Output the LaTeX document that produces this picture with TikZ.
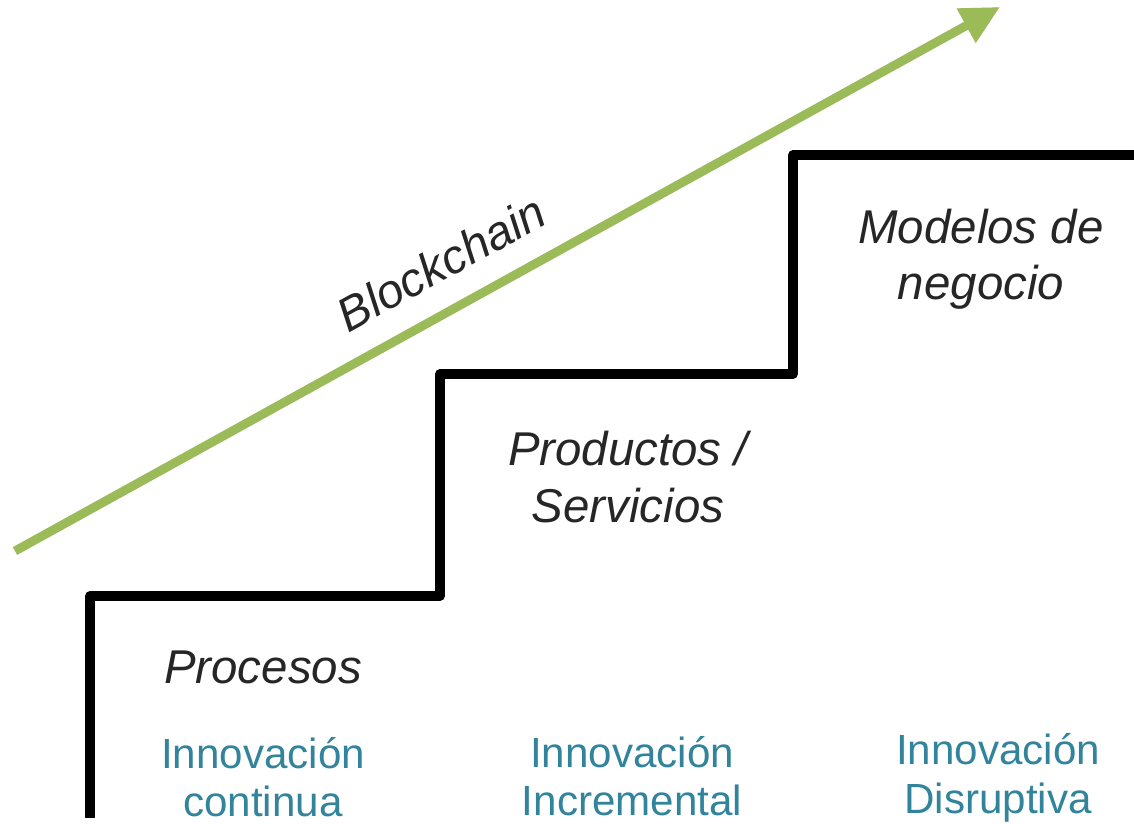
\documentclass[tikz,border=0pt]{standalone}
\usepackage{fontspec}
\setmainfont{Liberation Sans}
\usetikzlibrary{arrows.meta}
\definecolor{leaf}{HTML}{9BBB59}
\definecolor{teal}{HTML}{31849B}
\definecolor{ink}{HTML}{262626}
\tikzset{
  stair/.style={line width=5.4pt, black, line join=round, line cap=butt},
  stairshadow/.style={line width=5.4pt, black!35, opacity=0.4, line join=round},
  growth/.style={line width=5pt, leaf, -{Triangle[length=22pt,width=21pt]}},
  growthshadow/.style={line width=5pt, black!40, opacity=0.3, -{Triangle[length=22pt,width=21pt]}},
  stage/.style={font=\fontsize{27}{32}\selectfont\itshape, text=ink, align=center, inner sep=0pt},
  kind/.style={font=\fontsize{24}{27.5}\selectfont, text=teal, align=center, inner sep=0pt}
}
\begin{document}
\begin{tikzpicture}[x=0.02cm,y=-0.02cm]
\useasboundingbox (0,0) rectangle (1134,824);
% staircase
\coordinate (s0) at (90,818);
\coordinate (s1) at (90,596);
\coordinate (s2) at (440,596);
\coordinate (s3) at (440,374);
\coordinate (s4) at (793,374);
\coordinate (s5) at (793,155);
\coordinate (s6) at (1140,155);
\draw[stairshadow, shift={(3,3)}] (s0) -- (s1) -- (s2) -- (s3) -- (s4) -- (s5) -- (s6);
\draw[stair] (s0) -- (s1) -- (s2) -- (s3) -- (s4) -- (s5) -- (s6);
% arrow
\coordinate (a0) at (15,551);
\coordinate (a1) at (1000,7);
\draw[growthshadow, shift={(3,4)}] (a0) -- (a1);
\draw[growth] (a0) -- (a1);
% labels
\node[stage, rotate=28.9] (bc) at (441,263) {Blockchain};
\node[stage] (proc) at (263,667) {Procesos};
\node[stage] (prod) at (628,477) {Productos /\\Servicios};
\node[stage] (mod) at (981,259) {Modelos de\\negocio};
\node[kind] (ic) at (263,777) {Innovación\\continua};
\node[kind] (ii) at (632,776) {Innovación\\Incremental};
\node[kind] (id) at (998,778) {Innovación\\Disruptiva};
\end{tikzpicture}
\end{document}
